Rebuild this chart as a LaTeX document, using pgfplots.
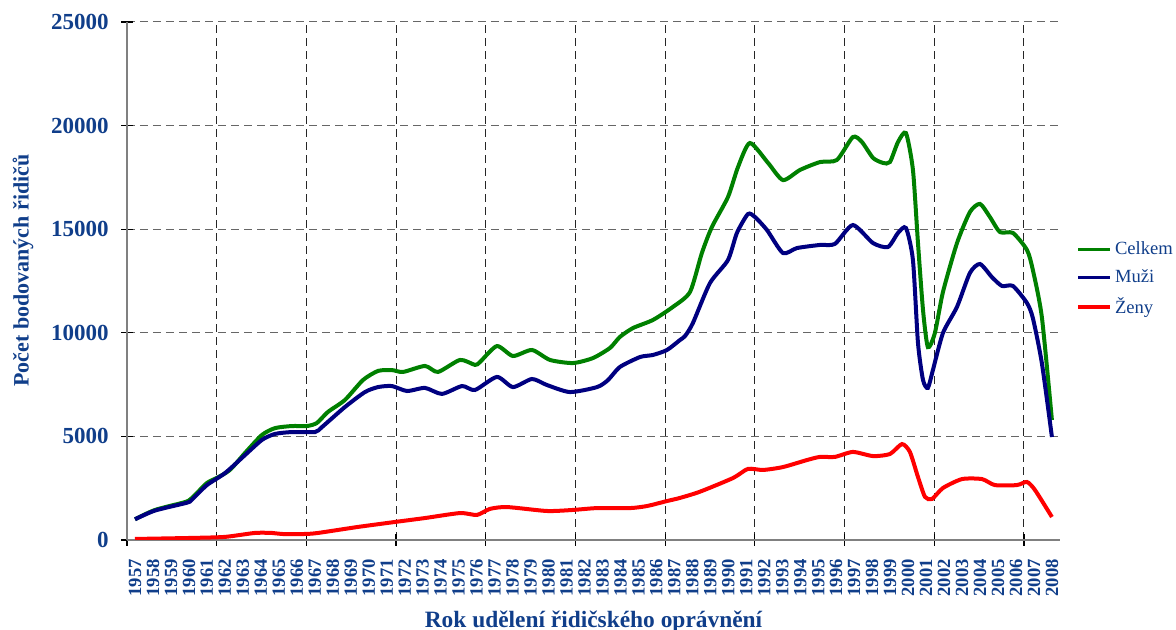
\documentclass[border=0pt]{standalone}
\usepackage{fontspec}
\setmainfont{Liberation Serif}
\usepackage{pgfplots}
\pgfplotsset{compat=1.18}
\definecolor{txtblue}{RGB}{16,62,138}
\definecolor{celkem}{RGB}{0,128,0}
\definecolor{muzi}{RGB}{0,0,128}
\definecolor{zeny}{RGB}{255,0,0}

\begin{document}
\begin{tikzpicture}
\begin{axis}[
  scale only axis,
  width=466.5pt, height=259pt,
  xmin=1956.555, xmax=2008.45,
  ymin=0, ymax=25000,
  axis lines=left,
  axis line style={-, black!50, line width=0.9pt},
  scaled y ticks=false,
  /pgf/number format/1000 sep={},
  /pgf/number format/assume math mode=true,
  xtick={1956.555,1961.544,1966.533,1971.522,1976.511,1981.5,1986.489,1991.478,1996.467,2001.456,2006.445},
  xticklabels={},
  extra x ticks={1957,1958,...,2008},
  extra x tick style={grid=none, major tick length=0pt},
  xticklabel style={rotate=90, anchor=east, inner sep=0pt, xshift=-9.5pt,
    font=\bfseries\fontsize{9.3}{10}\selectfont, text=txtblue},
  ytick={0,5000,...,25000},
  yticklabel style={font=\bfseries\fontsize{11.5}{12}\selectfont, text=txtblue, inner sep=0pt, xshift=-6pt},
  tick align=center,
  major tick length=6pt,
  tick style={black, line width=0.6pt},
  xmajorgrids, ymajorgrids,
  x grid style={black!85, line width=0.5pt, dash pattern=on 4pt off 2.5pt},
  y grid style={black!60, line width=0.5pt, dash pattern=on 4pt off 2.5pt},
  xlabel={Rok udělení řidičského oprávnění},
  xlabel style={at={(axis description cs:0.5,0)}, anchor=north, yshift=-32pt,
    font=\bfseries\fontsize{11.7}{13}\selectfont, text=txtblue},
  ylabel={Počet bodovaných řidičů},
  ylabel style={at={(axis description cs:0,0.52)}, anchor=center, yshift=52pt,
    font=\bfseries\fontsize{11}{12}\selectfont, text=txtblue},
  legend style={at={(1,0.504)}, anchor=west, xshift=8pt, draw=none, fill=none,
    font=\fontsize{9.3}{10}\selectfont, text=txtblue, row sep=3pt, inner sep=0pt,
    nodes={inner sep=1.5pt}},
  legend cell align=left,
  legend image code/.code={\draw[#1, line width=1.8pt] (0pt,0pt) -- (16pt,0pt);},
  every axis plot/.append style={line width=2pt, smooth, tension=0.4},
]
\coordinate (SW) at (rel axis cs:0,0);
\coordinate (NE) at (rel axis cs:1,1);

\addplot[celkem] coordinates {
(1957.00,1000) (1958.11,1450) (1959.78,1830) (1960.17,2030) (1961.00,2750)
(1961.56,3000) (1962.28,3380) (1963.12,4200) (1964.06,5070) (1964.79,5400)
(1965.73,5500) (1966.57,5500) (1967.12,5650) (1967.73,6180) (1968.68,6760)
(1969.68,7720) (1970.52,8160) (1971.29,8200) (1971.91,8110) (1973.13,8400)
(1973.85,8110) (1975.08,8690) (1975.91,8450) (1976.19,8590) (1977.13,9360)
(1978.02,8880) (1979.08,9170) (1980.08,8690) (1981.36,8540) (1982.47,8780)
(1983.42,9270) (1983.97,9800) (1984.70,10230) (1985.81,10620) (1986.92,11250)
(1987.87,11970) (1988.53,13850) (1989.09,15110) (1989.98,16550) (1990.54,18000)
(1991.20,19160) (1992.21,18200) (1993.04,17370) (1993.99,17860) (1995.10,18240)
(1996.04,18340) (1996.93,19450) (1997.43,19210) (1998.05,18440) (1998.60,18200)
(1998.99,18240) (1999.44,19210) (1999.88,19640) (2000.27,17860) (2000.55,14330)
(2000.83,11100) (2001.10,9310) (2001.49,9990) (2001.94,11970) (2002.72,14330)
(2003.44,15830) (2004.00,16220) (2004.55,15590) (2005.11,14860) (2005.83,14820)
(2006.61,14000) (2006.94,13030) (2007.44,10760) (2008.00,5790)
};
\addlegendentry{Celkem}

\addplot[muzi] coordinates {
(1957.00,1000) (1958.11,1420) (1959.89,1800) (1960.17,1950) (1961.00,2650)
(1962.01,3230) (1963.12,4100) (1964.06,4830) (1964.79,5120) (1965.73,5210)
(1967.01,5210) (1967.40,5450) (1968.68,6420) (1969.79,7140) (1970.52,7380)
(1971.29,7430) (1972.13,7190) (1973.13,7340) (1974.07,7050) (1975.19,7430)
(1975.91,7240) (1977.13,7870) (1978.02,7380) (1979.08,7770) (1979.91,7480)
(1981.19,7140) (1982.70,7380) (1983.31,7720) (1983.97,8350) (1985.09,8830)
(1985.81,8930) (1986.59,9170) (1987.31,9650) (1987.60,9850) (1988.03,10470)
(1988.98,12400) (1989.98,13510) (1990.48,14820) (1991.09,15730) (1991.48,15590)
(1992.15,14960) (1993.04,13850) (1993.82,14090) (1995.10,14240) (1995.93,14290)
(1996.93,15200) (1998.05,14330) (1998.88,14140) (1999.44,14820) (1999.88,15060)
(2000.27,13510) (2000.55,9510) (2000.83,7720) (2001.10,7340) (2001.38,8200)
(2001.94,9990) (2002.72,11250) (2003.44,12890) (2004.00,13320) (2004.66,12690)
(2005.22,12260) (2005.83,12260) (2006.61,11440) (2006.94,10710) (2007.44,8540)
(2008.00,4970)
};
\addlegendentry{Muži}

\addplot[zeny] coordinates {
(1957.00,50) (1960.17,100) (1962.01,150) (1963.67,340) (1964.62,340)
(1965.18,290) (1966.45,290) (1967.18,340) (1969.40,630) (1971.46,870)
(1973.13,1060) (1975.08,1300) (1976.02,1210) (1976.74,1500) (1977.69,1590)
(1979.91,1400) (1981.36,1450) (1982.70,1540) (1984.53,1540) (1985.48,1640)
(1986.59,1880) (1987.31,2030) (1988.42,2330) (1990.26,2990) (1991.09,3430)
(1991.93,3380) (1993.04,3520) (1994.38,3860) (1995.10,4010) (1995.93,4010)
(1996.93,4250) (1998.05,4050) (1998.99,4150) (1999.66,4630) (2000.10,4250)
(2000.55,3040) (2000.94,2080) (2001.33,1980) (2001.94,2510) (2003.00,2940)
(2004.11,2940) (2004.83,2650) (2006.05,2650) (2006.61,2800) (2007.06,2410)
(2008.00,1110)
};
\addlegendentry{Ženy}
\end{axis}
\pgfresetboundingbox
\path ([shift={(-63.5pt,-45pt)}]SW) rectangle ([shift={(58pt,11pt)}]NE);
\end{tikzpicture}
\end{document}
